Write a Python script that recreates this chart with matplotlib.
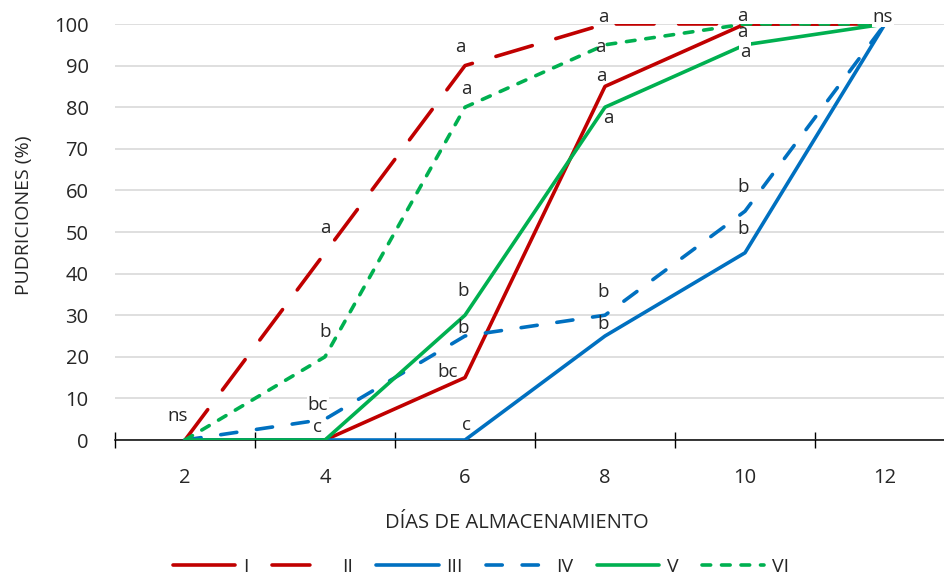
import matplotlib
matplotlib.use("Agg")
import matplotlib.pyplot as plt
from matplotlib.lines import Line2D

plt.rcParams['font.family'] = ['Open Sans', 'DejaVu Sans']

# Días de almacenamiento y porcentaje de pudriciones por tratamiento
dias = ['2', '4', '6', '8', '10', '12']
serie_I = [0, 0, 15, 85, 100, 100]
serie_II = [0, 45, 90, 100, 100, 100]
serie_III = [0, 0, 0, 25, 45, 100]
serie_IV = [0, 5, 25, 30, 55, 100]
serie_V = [0, 0, 30, 80, 95, 100]
serie_VI = [0, 20, 80, 95, 100, 100]
nombres = ['I', 'II', 'III', 'IV', 'V', 'VI']
y_ticks = list(range(0, 101, 10))

# Letras de significancia: (serie, índice del día, letra)
letras = [
    ('II', 0, 'ns'),
    ('II', 1, 'a'), ('VI', 1, 'b'), ('IV', 1, 'bc'), ('V', 1, 'c'),
    ('II', 2, 'a'), ('VI', 2, 'a'), ('V', 2, 'b'), ('IV', 2, 'b'), ('I', 2, 'bc'), ('III', 2, 'c'),
    ('II', 3, 'a'), ('VI', 3, 'a'), ('I', 3, 'a'), ('V', 3, 'a'), ('IV', 3, 'b'), ('III', 3, 'b'),
    ('II', 4, 'a'), ('I', 4, 'a'), ('V', 4, 'a'), ('IV', 4, 'b'), ('III', 4, 'b'),
    ('II', 5, 'ns'),
]

# Desplazamiento de cada letra respecto a su punto (píxeles) y fondo blanco
desplazamientos = [
    (-7, 24),
    (0, 25), (0, 25), (-7, 14), (-7, 13),
    (-5, 19), (1, 18), (-2, 24), (-2, 8), (-17, 6), (2, 15),
    (-2, 7), (-5, -2), (-4, 10), (3, -11), (-2, 23), (-2, 12),
    (-3, 8), (-3, -8), (0, -7), (-2, 24), (-2, 24),
    (-2, 7),
]
con_fondo = {('V', 1), ('IV', 1), ('V', 4), ('II', 5)}

valores = dict(zip(nombres, [serie_I, serie_II, serie_III, serie_IV, serie_V, serie_VI]))

rojo, azul, verde = '#C00000', '#0070C0', '#00B050'
lw = 2.6
estilos = {
    'I': dict(color=rojo, linestyle='-'),
    'II': dict(color=rojo, linestyle=(0, (10.5, 6.8))),
    'III': dict(color=azul, linestyle='-'),
    'IV': dict(color=azul, linestyle=(0, (4.5, 5.5))),
    'V': dict(color=verde, linestyle='-'),
    'VI': dict(color=verde, linestyle=(0, (2.4, 3.0))),
}

texto = '#262626'
fig = plt.figure(figsize=(9.45, 5.75), dpi=100)
W, H = 945, 575
ax = fig.add_axes([115 / W, 1 - 440 / H, 840 / W, 416 / H])

x = list(range(len(dias)))
for n in nombres:
    ax.plot(x, valores[n], linewidth=lw, dash_capstyle='round',
            solid_capstyle='round', solid_joinstyle='round', label=n,
            zorder=3, **estilos[n])

for (serie, i, letra), (dx, dy) in zip(letras, desplazamientos):
    bbox = None
    if (serie, i) in con_fondo:
        bbox = dict(facecolor='white', edgecolor='none', pad=0.5)
    ax.annotate(letra, xy=(x[i], valores[serie][i]), xytext=(dx, dy),
                textcoords='offset pixels', ha='center', va='center',
                fontsize=13.5, color=texto, bbox=bbox, zorder=5,
                annotation_clip=False)

ax.set_xlim(-0.5, len(dias) - 0.5)
ax.set_ylim(0, 100)
ax.set_yticks(y_ticks)
ax.set_xticks(x)
ax.set_xticklabels(dias)
ax.set_xticks([v - 0.5 for v in range(len(dias) + 1)], minor=True)

ax.grid(axis='y', color='#D9D9D9', linewidth=1.2, zorder=0)
ax.set_axisbelow(True)
for s in ['top', 'right', 'left']:
    ax.spines[s].set_visible(False)
ax.spines['bottom'].set_color('black')
ax.spines['bottom'].set_linewidth(1.1)
ax.spines['bottom'].set_zorder(2)

ax.tick_params(axis='y', length=0, pad=19, labelsize=14.5, labelcolor=texto)
ax.tick_params(axis='x', which='major', length=0, pad=20, labelsize=14.5,
               labelcolor=texto)
ax.tick_params(axis='x', which='minor', direction='inout', length=11,
               width=1.0, color='black')

fig.text(517 / W, 1 - 523 / H, 'DÍAS DE ALMACENAMIENTO', ha='center',
         va='center', fontsize=14.5, color=texto)
fig.text(24 / W, 1 - 215 / H, 'PUDRICIONES (%)', ha='center', va='center',
         rotation=90, fontsize=14, color=texto)

handles = [Line2D([0], [0], linewidth=lw, dash_capstyle='round',
                  solid_capstyle='round', **estilos[n]) for n in nombres]
fig.legend(handles, nombres, loc='center', bbox_to_anchor=(481 / W, 1 - 567 / H),
           ncol=6, frameon=False, fontsize=14, handlelength=3.2,
           handletextpad=0.4, columnspacing=1.2, labelcolor=texto,
           borderaxespad=0, borderpad=0)

fig.savefig('out.png', dpi=100)
